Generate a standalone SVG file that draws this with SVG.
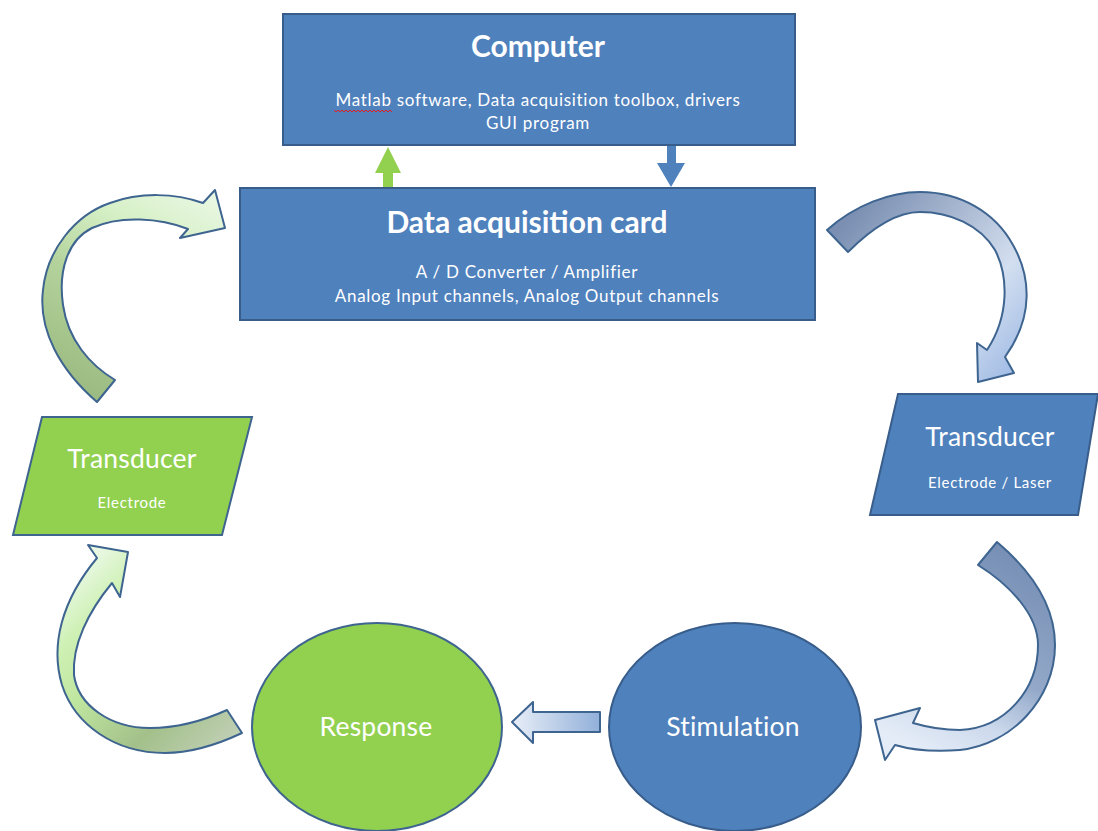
<svg xmlns="http://www.w3.org/2000/svg" width="1098" height="831" viewBox="0 0 1098 831">
  <style>
    .blue { fill: #4F81BD; stroke: #385D8A; stroke-width: 2; }
    .green { fill: #92D050; stroke: #3E6490; stroke-width: 2; }
    .curve { stroke: #3E6490; stroke-width: 2; stroke-linejoin: round; }
    text { font-family: Lato, "Open Sans", "Liberation Sans", sans-serif; fill: #FFFFFF; text-anchor: middle; }
    .title { font-weight: bold; font-size: 30px; }
    .sub { font-size: 17px; letter-spacing: 0.7px; }
    .big { font-size: 26.5px; letter-spacing: 0.2px; }
    .small { font-size: 15px; letter-spacing: 0.7px; }
  </style>
  <defs>
    <linearGradient id="gTL" gradientUnits="userSpaceOnUse" x1="100" y1="400" x2="205" y2="195">
      <stop offset="0" stop-color="#9BBB82"/>
      <stop offset="0.45" stop-color="#B4D39C"/>
      <stop offset="0.75" stop-color="#D6F0C6"/>
      <stop offset="1" stop-color="#E8F7E2"/>
    </linearGradient>
    <linearGradient id="gBL" gradientUnits="userSpaceOnUse" x1="250" y1="720" x2="90" y2="560">
      <stop offset="0" stop-color="#BFCFB3"/>
      <stop offset="0.28" stop-color="#A3C08A"/>
      <stop offset="0.6" stop-color="#BFE69F"/>
      <stop offset="0.82" stop-color="#CFF1B5"/>
      <stop offset="1" stop-color="#E8F8E2"/>
    </linearGradient>
    <linearGradient id="gTR" gradientUnits="userSpaceOnUse" x1="830" y1="240" x2="1000" y2="380">
      <stop offset="0" stop-color="#7A8FB2"/>
      <stop offset="0.45" stop-color="#B3C1D8"/>
      <stop offset="0.7" stop-color="#D3DFF0"/>
      <stop offset="1" stop-color="#A6BFE6"/>
    </linearGradient>
    <linearGradient id="gBR" gradientUnits="userSpaceOnUse" x1="1000" y1="550" x2="900" y2="740">
      <stop offset="0" stop-color="#7890B6"/>
      <stop offset="0.5" stop-color="#94A9C9"/>
      <stop offset="0.75" stop-color="#CCD9EC"/>
      <stop offset="1" stop-color="#E4ECF7"/>
    </linearGradient>
    <linearGradient id="gSmall" gradientUnits="userSpaceOnUse" x1="512" y1="0" x2="600" y2="0">
      <stop offset="0" stop-color="#E8EEF7"/>
      <stop offset="1" stop-color="#92B0DA"/>
    </linearGradient>
  </defs>

  <!-- connectors -->
  <g id="connectors">
    <!-- card to computer (green, up) -->
    <polygon points="388,147 401,173 393,173 393,189 383,189 383,173 375,173" fill="#92D050"/>
    <!-- computer to card (blue, down) -->
    <polygon points="667,145 676,145 676,163 685,163 671,187 657,163 667,163" fill="#4F81BD"/>
    <!-- left transducer to card -->
    <path class="curve" fill="url(#gTL)" d="M 97 402 C 60 370, 38 330, 43 290 C 47 250, 75 215, 110 203 C 140 192, 175 193, 203 203 L 215 190 L 225 228 L 180 238 L 188 229 C 160 218, 120 215, 92 228 C 68 240, 58 270, 63 305 C 68 340, 90 365, 115 380 Z"/>
    <!-- card to right transducer -->
    <path class="curve" fill="url(#gTR)" d="M 827 230 C 855 205, 890 192, 920 192 C 960 192, 995 212, 1013 245 C 1030 275, 1035 315, 1005 357 L 1014 373 L 978 382 L 977 343 L 987 350 C 1010 315, 1008 275, 995 250 C 980 225, 950 212, 920 212 C 895 212, 870 230, 848 252 Z"/>
    <!-- right transducer to stimulation -->
    <path class="curve" fill="url(#gBR)" d="M 997 542 C 1030 570, 1055 605, 1055 645 C 1055 700, 1010 745, 960 750 C 935 752, 912 750, 895 745 L 885 760 L 875 720 L 920 708 L 913 723 C 930 728, 945 730, 960 730 C 1005 728, 1038 690, 1038 645 C 1038 615, 1010 585, 978 565 Z"/>
    <!-- stimulation to response -->
    <polygon class="curve" fill="url(#gSmall)" points="512,722 533,702 533,712 600,712 600,732 533,732 533,743"/>
    <!-- response to left transducer -->
    <path class="curve" fill="url(#gBL)" d="M 242 733 C 210 748, 185 753, 165 753 C 115 753, 75 725, 62 685 C 50 645, 62 600, 97 558 L 88 545 L 128 552 L 120 597 L 112 583 C 88 612, 72 645, 74 675 C 78 705, 110 728, 150 728 C 180 728, 205 720, 227 710 Z"/>
  </g>

  <g id="computer">
    <rect class="blue" x="283" y="14" width="512" height="131"/>
    <text class="title" x="538" y="57">Computer</text>
    <text class="sub" x="538" y="106">Matlab software, Data acquisition toolbox, drivers</text>
    <text class="sub" x="538" y="129">GUI program</text>
    <path d="M334 110 l2 2 l2 -2 l2 2 l2 -2 l2 2 l2 -2 l2 2 l2 -2 l2 2 l2 -2 l2 2 l2 -2 l2 2 l2 -2 l2 2 l2 -2 l2 2 l2 -2 l2 2 l2 -2 l2 2 l2 -2 l2 2 l2 -2 l2 2 l2 -2 l2 2 l2 -2 l2 2" fill="none" stroke="#E02020" stroke-width="1"/>
  </g>

  <g id="daq-card">
    <rect class="blue" x="240" y="188" width="575" height="132"/>
    <text class="title" x="527" y="233">Data acquisition card</text>
    <text class="sub" x="527" y="278">A / D Converter / Amplifier</text>
    <text class="sub" x="527" y="302">Analog Input channels, Analog Output channels</text>
  </g>

  <g id="transducer-left">
    <polygon class="green" points="42,417 252,417 222,535 13,535"/>
    <text class="big" x="132" y="468">Transducer</text>
    <text class="small" x="132" y="508">Electrode</text>
  </g>

  <g id="transducer-right">
    <polygon class="blue" points="898,394 1098,394 1078,515 870,515"/>
    <text class="big" x="990" y="446">Transducer</text>
    <text class="small" x="990" y="488">Electrode / Laser</text>
  </g>

  <g id="response">
    <ellipse class="green" cx="377" cy="727" rx="125" ry="104"/>
    <text class="big" x="376" y="736">Response</text>
  </g>

  <g id="stimulation">
    <ellipse class="blue" cx="735" cy="727" rx="126" ry="104"/>
    <text class="big" x="733" y="736">Stimulation</text>
  </g>
</svg>
